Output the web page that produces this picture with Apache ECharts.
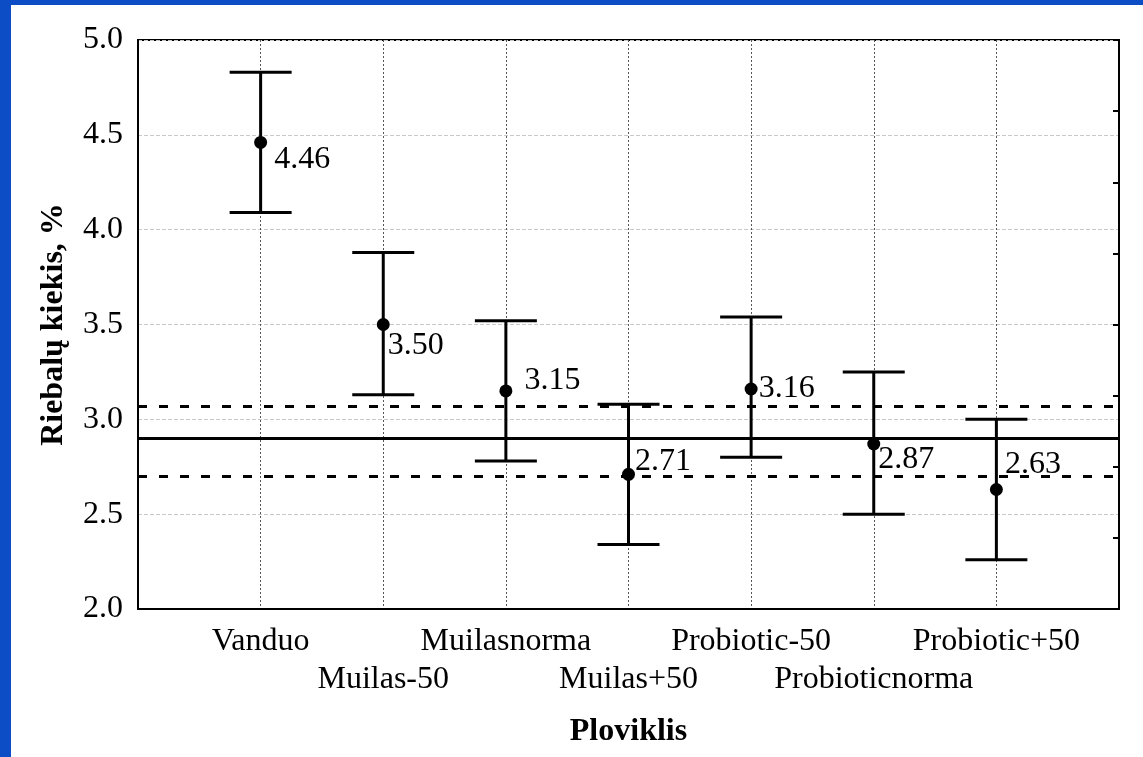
<!DOCTYPE html>
<html>
<head>
<meta charset="utf-8">
<script src="https://cdn.jsdelivr.net/npm/echarts@6/dist/echarts.min.js"></script>
<style>
html,body{margin:0;padding:0;width:1143px;height:757px;background:#0c4dc5;overflow:hidden;}
#chart{position:absolute;left:11px;top:5px;width:1132px;height:752px;background:#fff;}
</style>
</head>
<body>
<div id="chart"></div>
<script>
// ---- data ----
const categories = ['Vanduo','Muilas-50','Muilasnorma','Muilas+50','Probiotic-50','Probioticnorma','Probiotic+50'];
const means = [4.46, 3.50, 3.15, 2.71, 3.16, 2.87, 2.63];
const lower = [4.09, 3.13, 2.78, 2.34, 2.80, 2.50, 2.26];
const upper = [4.83, 3.88, 3.52, 3.08, 3.54, 3.25, 3.00];
const refMean = 2.90;
const refLower = 2.70;
const refUpper = 3.07;
const yTicks = [2.0, 2.5, 3.0, 3.5, 4.0, 4.5, 5.0];

// label nudges (styling)
const labelNudge = [[7,17],[-2,21],[12,-10],[0,-13],[1,0],[-2,16],[2,-25]];

const FONT = '"Liberation Serif", "Times New Roman", serif';
const chart = echarts.init(document.getElementById('chart'));

const errData = categories.map((c, i) => [i + 1, lower[i], upper[i]]);
const meanData = categories.map((c, i) => ({
  value: [i + 1, means[i]],
  label: { offset: labelNudge[i] }
}));

chart.setOption({
  animation: false,
  backgroundColor: '#fff',
  grid: { left: 127, top: 35, right: 24, bottom: 148, show: true, borderColor: '#000', borderWidth: 2, backgroundColor: 'transparent' },
  xAxis: {
    type: 'value', min: 0, max: categories.length + 1, interval: 1,
    name: 'Ploviklis', nameLocation: 'middle', nameGap: 107,
    nameTextStyle: { fontFamily: FONT, fontSize: 32, fontWeight: 'bold', color: '#000' },
    axisLine: { show: true, lineStyle: { color: '#000', width: 2 } },
    axisTick: { show: false },
    axisLabel: {
      fontFamily: FONT, fontSize: 32, color: '#000', margin: 14, lineHeight: 38,
      formatter: function (v) {
        const i = Math.round(v) - 1;
        if (i < 0 || i >= categories.length) return '';
        return (i % 2 === 1 ? '\n' : '') + categories[i];
      }
    },
    splitLine: { show: true, lineStyle: { color: '#555', width: 1, type: [2, 2] } }
  },
  yAxis: [{
    type: 'value', min: yTicks[0], max: yTicks[yTicks.length - 1], interval: 0.5,
    name: 'Riebalų kiekis, %', nameLocation: 'middle', nameGap: 68, nameRotate: 90,
    nameTextStyle: { fontFamily: FONT, fontSize: 32, fontWeight: 'bold', color: '#000' },
    axisLine: { show: true, lineStyle: { color: '#000', width: 2 } },
    axisTick: { show: false },
    axisLabel: { fontFamily: FONT, fontSize: 32, color: '#000', margin: 15, padding: [6, 0, 0, 0], formatter: v => v.toFixed(1) },
    splitLine: { show: true, lineStyle: { color: '#c8c8c8', width: 1, type: [4, 2] } }
  }, {
    type: 'value', min: 0, max: 8, interval: 1, position: 'right',
    axisLine: { show: true, lineStyle: { color: '#000', width: 2 } },
    axisTick: { show: true, inside: true, length: 6, lineStyle: { color: '#000', width: 2 } },
    axisLabel: { show: false },
    splitLine: { show: false }
  }],
  series: [
    {
      type: 'line', data: [], silent: true,
      markLine: {
        symbol: 'none', silent: true, label: { show: false },
        data: [
          { yAxis: refMean, lineStyle: { color: '#000', width: 3, type: 'solid' } },
          { yAxis: refUpper, lineStyle: { color: '#000', width: 3, type: [9, 12] } },
          { yAxis: refLower, lineStyle: { color: '#000', width: 3, type: [9, 12] } }
        ]
      }
    },
    {
      type: 'custom', data: errData, z: 5,
      renderItem: function (params, api) {
        const x = api.value(0);
        const lo = api.coord([x, api.value(1)]);
        const hi = api.coord([x, api.value(2)]);
        const hw = 31;
        const st = { stroke: '#000', lineWidth: 3 };
        return {
          type: 'group',
          children: [
            { type: 'line', shape: { x1: lo[0], y1: lo[1], x2: hi[0], y2: hi[1] }, style: st },
            { type: 'line', shape: { x1: hi[0] - hw, y1: hi[1], x2: hi[0] + hw, y2: hi[1] }, style: st },
            { type: 'line', shape: { x1: lo[0] - hw, y1: lo[1], x2: lo[0] + hw, y2: lo[1] }, style: st }
          ]
        };
      }
    },
    {
      type: 'scatter', data: meanData, symbol: 'circle', symbolSize: 13, z: 6,
      itemStyle: { color: '#000', opacity: 1 },
      label: {
        show: true, position: 'right', distance: 0,
        fontFamily: FONT, fontSize: 32, color: '#000', opacity: 1,
        formatter: p => p.value[1].toFixed(2)
      }
    }
  ]
});
</script>
</body>
</html>
